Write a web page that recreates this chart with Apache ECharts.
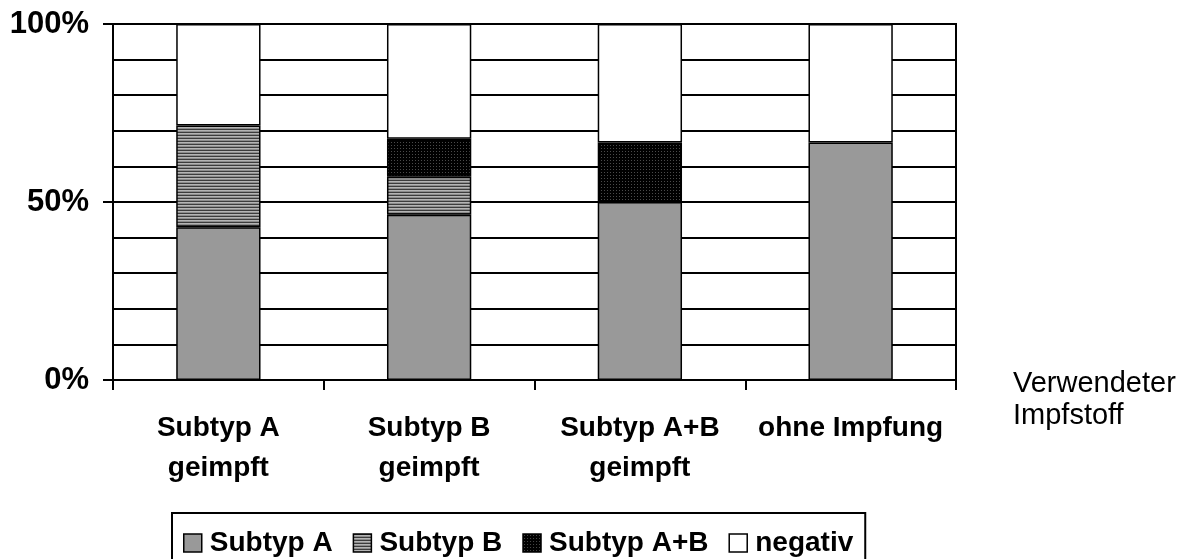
<!DOCTYPE html>
<html>
<head>
<meta charset="utf-8">
<script src="https://cdn.jsdelivr.net/npm/echarts@6/dist/echarts.min.js"></script>
<style>
  html, body { margin: 0; padding: 0; background: #fff; }
  #chart { width: 1196px; height: 559px; }
</style>
</head>
<body>
<div id="chart"></div>
<script>
// Share of results per vaccine group (percent of animals)
const categories = ['Subtyp A\ngeimpft', 'Subtyp B\ngeimpft', 'Subtyp A+B\ngeimpft', 'ohne Impfung'];
const seriesNames = ['Subtyp A', 'Subtyp B', 'Subtyp A+B', 'negativ'];
const subtypA = [42.9, 46.4, 50.0, 66.7];
const subtypB = [28.6, 10.7, null, null];
const subtypAB = [null, 10.7, 16.7, null];
const negativ = [28.5, 32.2, 33.3, 33.3];
const axisName = 'Verwendeter\nImpfstoff';

const FONT = "'Liberation Sans', Arial, sans-serif";

// Fill patterns drawn on small canvases
function stripePattern() {
  const c = document.createElement('canvas');
  c.width = 4; c.height = 3;
  const g = c.getContext('2d');
  const rows = ['#3c3c3c', '#b4b4b4', '#8c8c8c'];
  rows.forEach((col, i) => { g.fillStyle = col; g.fillRect(0, i, 4, 1); });
  return { image: c, repeat: 'repeat' };
}
function dotPattern() {
  const c = document.createElement('canvas');
  c.width = 3; c.height = 3;
  const g = c.getContext('2d');
  g.fillStyle = '#000'; g.fillRect(0, 0, 3, 3);
  g.fillStyle = '#4a4a4a'; g.fillRect(1, 1, 1, 1);
  return { image: c, repeat: 'repeat' };
}

const fills = ['#999999', stripePattern(), dotPattern(), '#ffffff'];
const values = [subtypA, subtypB, subtypAB, negativ];

const chart = echarts.init(document.getElementById('chart'), null, { renderer: 'canvas' });

chart.setOption({
  animation: false,
  backgroundColor: '#fff',
  grid: {
    left: 113, right: 240, top: 24, bottom: 179,
    show: true, borderColor: '#000', borderWidth: 2, backgroundColor: 'transparent'
  },
  legend: {
    data: seriesNames,
    left: 172, top: 513,
    padding: [16, 12, 16, 11],
    borderColor: '#000', borderWidth: 2,
    itemWidth: 18, itemHeight: 18, itemGap: 20,
    icon: 'rect',
    itemStyle: { borderColor: '#000', borderWidth: 1.5 },
    textStyle: { fontFamily: FONT, fontWeight: 'bold', fontSize: 28, color: '#000', padding: [0, 0, 0, 3] }
  },
  xAxis: {
    type: 'category',
    data: categories,
    name: axisName,
    nameLocation: 'end',
    nameGap: 57,
    nameTextStyle: {
      fontFamily: FONT, fontSize: 29, color: '#000', align: 'left',
      verticalAlign: 'top', lineHeight: 32, padding: [-12, 0, 0, 0]
    },
    axisLine: { lineStyle: { color: '#000', width: 2 } },
    axisTick: { show: true, length: 10, lineStyle: { color: '#000', width: 2 } },
    axisLabel: {
      fontFamily: FONT, fontWeight: 'bold', fontSize: 28, color: '#000',
      lineHeight: 40, margin: 28, interval: 0
    },
    splitLine: { show: false }
  },
  yAxis: {
    type: 'value',
    min: 0, max: 100, interval: 50,
    axisLine: { show: true, lineStyle: { color: '#000', width: 2 } },
    axisTick: { show: true, length: 10, lineStyle: { color: '#000', width: 2 } },
    axisLabel: {
      formatter: '{value}%', fontFamily: FONT, fontWeight: 'bold', fontSize: 31,
      color: '#000', margin: 24
    },
    splitLine: { show: true, lineStyle: { color: '#000', width: 2 } },
    minorTick: { show: false, splitNumber: 5 },
    minorSplitLine: { show: true, lineStyle: { color: '#000', width: 2 } }
  },
  series: seriesNames.map((name, i) => ({
    name,
    type: 'bar',
    stack: 'total',
    barWidth: '40%',
    data: values[i],
    itemStyle: { color: fills[i], borderColor: '#000', borderWidth: 1.5 },
    emphasis: { disabled: true }
  }))
});
</script>
</body>
</html>
